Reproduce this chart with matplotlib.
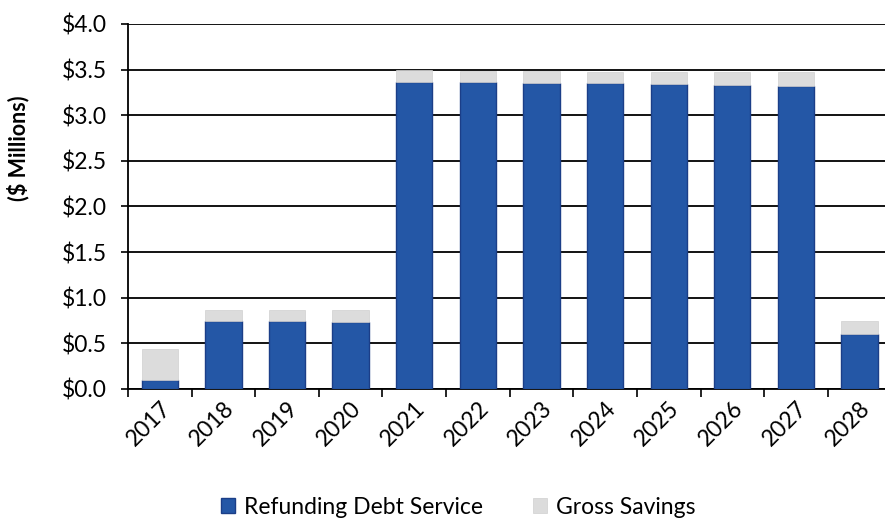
import numpy as np
import matplotlib.pyplot as plt
from matplotlib.ticker import FuncFormatter, MultipleLocator

# data ($ millions)
years = ['2017', '2018', '2019', '2020', '2021', '2022',
         '2023', '2024', '2025', '2026', '2027', '2028']
debt_service = [0.10, 0.74, 0.74, 0.73, 3.36, 3.36, 3.35, 3.35, 3.34, 3.33, 3.32, 0.60]
gross_savings = [0.34, 0.13, 0.13, 0.13, 0.13, 0.12, 0.13, 0.12, 0.13, 0.14, 0.15, 0.14]

plt.rcParams['font.family'] = ['Lato', 'DejaVu Sans']

fig = plt.figure(figsize=(8.85, 5.2), dpi=100)
ax = fig.add_axes([0.1446, 0.252, 0.8554, 0.702])

x = np.arange(len(years))
w = 0.57
ax.bar(x, debt_service, w, color='#2457a6', edgecolor='#1b3e88', linewidth=1,
       label='Refunding Debt Service', zorder=3)
ax.bar(x, gross_savings, w, bottom=debt_service, color='#dcdcdc', edgecolor='#cfcfcf',
       linewidth=0.5, label='Gross Savings', zorder=3)

ax.set_ylim(0, 4.0)
ax.set_xlim(-0.5, 11.4)
ax.yaxis.set_major_locator(MultipleLocator(0.5))
ax.yaxis.set_major_formatter(FuncFormatter(lambda v, p: '${:.1f}'.format(v)))
ax.grid(axis='y', color='black', linewidth=1.3, zorder=0)

ax.set_xticks(x)
ax.set_xticklabels(years, rotation=45, ha='right', rotation_mode='anchor')
ax.set_xticks(np.arange(-0.5, 11.5, 1), minor=True)
ax.tick_params(axis='x', which='major', length=0, labelsize=16.5, pad=6)
ax.tick_params(axis='x', which='minor', length=6, width=1.2, color='black')
ax.tick_params(axis='y', length=5, width=1.2, labelsize=16.5, pad=10)

for s in ['top', 'right']:
    ax.spines[s].set_visible(False)
ax.spines['left'].set_linewidth(1.3)
ax.spines['bottom'].set_linewidth(1.3)

ax.set_ylabel('($ Millions)', fontsize=15.5, fontweight='bold')
ax.yaxis.set_label_coords(-0.13, 0.66)

fig.legend(loc='center', bbox_to_anchor=(0.518, 0.025), ncol=2, frameon=False,
           fontsize=16.5, handlelength=0.6, handleheight=0.6, columnspacing=2.2,
           handletextpad=0.4)

plt.savefig('out.png', dpi=100)
